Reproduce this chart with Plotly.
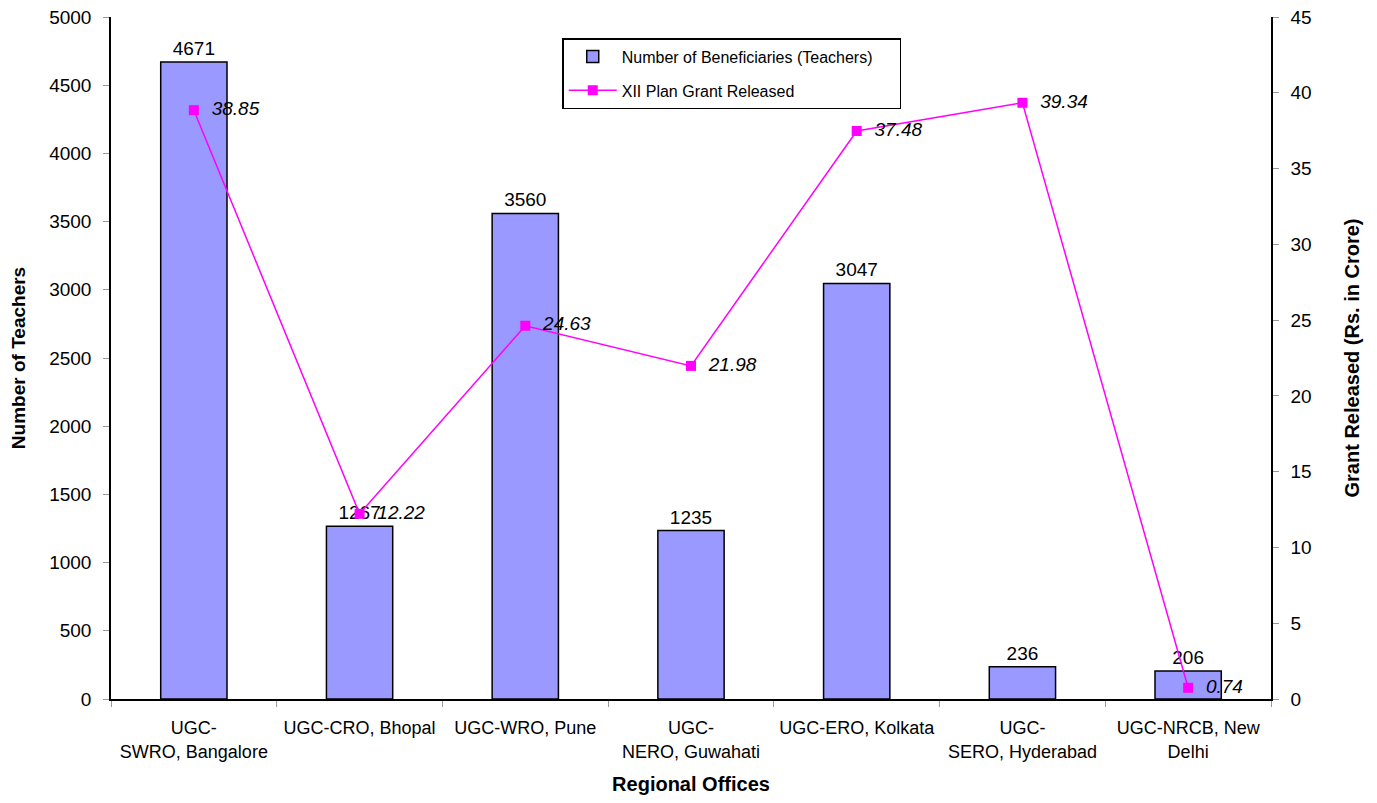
import plotly.graph_objects as go

categories = ["UGC-<br>SWRO, Bangalore", "UGC-CRO, Bhopal", "UGC-WRO, Pune",
              "UGC-<br>NERO, Guwahati", "UGC-ERO, Kolkata", "UGC-<br>SERO, Hyderabad",
              "UGC-NRCB, New<br>Delhi"]
teachers = [4671, 1267, 3560, 1235, 3047, 236, 206]
grant = [38.85, 12.22, 24.63, 21.98, 37.48, 39.34, 0.74]
left_ticks = [0, 500, 1000, 1500, 2000, 2500, 3000, 3500, 4000, 4500, 5000]
right_ticks = [0, 5, 10, 15, 20, 25, 30, 35, 40, 45]

FONT = "Liberation Sans, Arial, sans-serif"

fig = go.Figure()
fig.add_trace(go.Bar(
    x=categories, y=teachers,
    name="Number of Beneficiaries (Teachers)&nbsp;&nbsp;&nbsp;&nbsp;&nbsp;",
    legendgroup="a",
    marker=dict(color="#9999FF", line=dict(color="black", width=1.5)),
    text=[str(v) for v in teachers], textposition="outside",
    textfont=dict(size=19, color="black", family=FONT), cliponaxis=False,
))
fig.add_trace(go.Scatter(
    x=categories, y=grant, name="XII Plan Grant Released", yaxis="y2",
    legendgroup="b",
    mode="lines+markers+text",
    line=dict(color="#FF00FF", width=1.5),
    marker=dict(symbol="square", size=10, color="#FF00FF"),
    text=[f"  {v:.2f}" for v in grant], textposition="middle right",
    textfont=dict(size=19, color="black", family=FONT, style="italic"),
    cliponaxis=False,
))

fig.update_layout(
    width=1361, height=787,
    margin=dict(l=103, r=98, t=9, b=96),
    paper_bgcolor="white", plot_bgcolor="white",
    font=dict(family=FONT, color="black", size=18),
    bargap=0.6,
    showlegend=True,
    legend=dict(x=0.389, y=0.969, xanchor="left", yanchor="top",
                bordercolor="black", borderwidth=1.5, bgcolor="white",
                font=dict(size=16, family=FONT), tracegroupgap=10,
                itemwidth=48, traceorder="grouped"),
    xaxis=dict(
        automargin=False,
        showline=True, linecolor="black", linewidth=1.5,
        ticks="outside", tickcolor="#999999", ticklen=6, tickson="boundaries",
        tickfont=dict(size=18), showgrid=False, ticklabelstandoff=12,
        title=dict(text="<b>Regional Offices</b>", font=dict(size=20), standoff=28),
    ),
    yaxis=dict(
        automargin=False, ticklabeloverflow="allow",
        range=[0, 5000], tickvals=left_ticks, showline=True, linecolor="black",
        linewidth=1.5, ticks="outside", tickcolor="#999999", ticklen=6,
        showgrid=False, zeroline=False, tickfont=dict(size=19), ticklabelstandoff=8,
        title=dict(text="<b>Number of Teachers</b>", font=dict(size=19), standoff=20),
    ),
    yaxis2=dict(
        automargin=False, ticklabeloverflow="allow",
        range=[0, 45], tickvals=right_ticks, overlaying="y", side="right",
        showline=True, linecolor="black", linewidth=1.5, ticks="outside",
        tickcolor="#999999", ticklen=6, showgrid=False, zeroline=False,
        tickfont=dict(size=19), ticklabelstandoff=8,
        title=dict(text="<b>Grant Released (Rs. in Crore)</b>", font=dict(size=20), standoff=34),
    ),
)

fig.write_html("out.html")
